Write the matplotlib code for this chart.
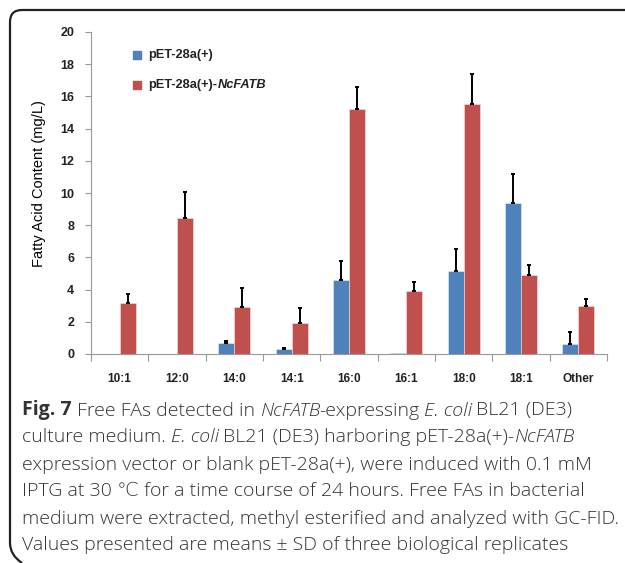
import numpy as np
import matplotlib.pyplot as plt
from matplotlib.path import Path
from matplotlib.patches import PathPatch

categories = ['10:1', '12:0', '14:0', '14:1', '16:0', '16:1', '18:0', '18:1', 'Other']
empty_vec = [0, 0, 0.68, 0.29, 4.58, 0.05, 5.16, 9.36, 0.62]
empty_sd = [0, 0, 0.15, 0.10, 1.22, 0, 1.36, 1.84, 0.77]
fatb = [3.19, 8.45, 2.92, 1.95, 15.22, 3.89, 15.50, 4.89, 2.98]
fatb_sd = [0.56, 1.61, 1.20, 0.93, 1.34, 0.58, 1.89, 0.66, 0.45]
yticks = [0, 2, 4, 6, 8, 10, 12, 14, 16, 18, 20]

blue = '#4f81bd'
red = '#c0504d'
W, H = 625, 563

fig = plt.figure(figsize=(W / 100, H / 100), dpi=100)
ax = fig.add_axes([91 / W, 1 - 354 / H, 516 / W, 322 / H])

x = np.arange(len(categories))
bw = 0.28
ax.bar(x - bw / 2, empty_vec, bw, color=blue, edgecolor='#e8eef6', linewidth=0.4, zorder=2)
ax.bar(x + bw / 2, fatb, bw, color=red, edgecolor='#f4e4e4', linewidth=0.4, zorder=2)

# one-sided error bars, only where there is an SD
for xs, vals, sds in [(x - bw / 2, empty_vec, empty_sd), (x + bw / 2, fatb, fatb_sd)]:
    m = np.array(sds) > 0
    ax.errorbar(xs[m], np.array(vals)[m], yerr=[np.zeros(m.sum()), np.array(sds)[m]],
                fmt='none', ecolor='black', elinewidth=1.4, capsize=1.6, capthick=1.4, zorder=3)

ax.set_xlim(-0.5, len(categories) - 0.5)
ax.set_ylim(0, 20)
ax.set_yticks(yticks)
ax.set_yticklabels([str(t) for t in yticks], fontsize=9, fontweight='bold',
                   family='Liberation Sans', color='#222222')
ax.set_xticks(x)
ax.set_xticklabels(categories, fontsize=8.5, fontweight='bold', family='Liberation Sans', color='#222222')
ax.tick_params(axis='x', length=0, pad=14)
ax.set_xticks(np.arange(len(categories) + 1) - 0.5, minor=True)
ax.tick_params(axis='x', which='minor', length=5, color='#999999', width=0.8)
ax.tick_params(axis='y', length=4, color='#999999', width=0.8, pad=8)
for s in ['top', 'right']:
    ax.spines[s].set_visible(False)
for s in ['left', 'bottom']:
    ax.spines[s].set_color('#999999')
    ax.spines[s].set_linewidth(0.8)

ax.set_ylabel('Fatty Acid Content (mg/L)', fontsize=10.5, family='Liberation Sans')
ax.yaxis.set_label_coords(-0.087, 0.53)

# legend drawn by hand so that only NcFATB is italic
sx = (137 - 91) / 57.33 - 0.5
lx = (148 - 91) / 57.33 - 0.5
ax.scatter([sx], [18.55], marker='s', s=32, color=blue, clip_on=False, zorder=4)
ax.scatter([sx], [16.7], marker='s', s=32, color=red, clip_on=False, zorder=4)
ax.text(lx, 18.55, 'pET-28a(+)', fontsize=9.2, fontweight='bold', family='Liberation Sans',
        va='center', color='#222222')
t1 = ax.text(lx, 16.7, 'pET-28a(+)-', fontsize=9.2, fontweight='bold', family='Liberation Sans',
             va='center', color='#222222')

fig.canvas.draw()
r = fig.canvas.get_renderer()
bb = t1.get_window_extent(r)
ax.annotate('NcFATB', xy=(bb.x1 + 0.5, bb.y0 + bb.height / 2), xycoords='figure pixels',
            va='center', fontsize=9.2, fontweight='bold', fontstyle='italic',
            family='Liberation Sans', color='#222222')

# caption
cap_font = ['Open Sans', 'DejaVu Sans']
cap_size = 14.0
lines = [
    [('Fig. 7', 'b'), (' Free FAs detected in ', 'n'), ('NcFATB', 'i'), ('-expressing ', 'n'),
     ('E. coli', 'i'), (' BL21 (DE3)', 'n')],
    [('culture medium. ', 'n'), ('E. coli', 'i'), (' BL21 (DE3) harboring pET-28a(+)-', 'n'),
     ('NcFATB', 'i')],
    [('expression vector or blank pET-28a(+), were induced with 0.1 mM', 'n')],
    [('IPTG at 30 \u2103 for a time course of 24 hours. Free FAs in bacterial', 'n')],
    [('medium were extracted, methyl esterified and analyzed with GC-FID.', 'n')],
    [('Values presented are means \u00b1 SD of three biological replicates', 'n')],
]
base = dict(fontsize=cap_size, family=cap_font, color='#333333', va='baseline', ha='left',
            fontweight='light')
ta = fig.text(0, 0, 'a a', **base)
tb = fig.text(0, 0, 'aa', **base)
space_w = ta.get_window_extent(r).width - tb.get_window_extent(r).width
ta.remove()
tb.remove()

y0 = H - 415.5
for i, segs in enumerate(lines):
    xp = 22
    yp = y0 - i * 27.0
    for j, (txt, st) in enumerate(segs):
        if j > 0 and (txt.startswith(' ') or segs[j - 1][0].endswith(' ')):
            xp += space_w
        kw = dict(base)
        if st == 'b':
            kw['fontweight'] = 'bold'
        if st == 'i':
            kw['fontstyle'] = 'italic'
        t = fig.text(xp / W, yp / H, txt.strip(), **kw)
        xp = t.get_window_extent(r).x1
        if st == 'i':
            xp -= 1.5

# rounded frame at the left/top
rad = 12
verts = [(W, H - 10), (10 + rad, H - 10), (10, H - 10), (10, H - 10 - rad),
         (10, 8 + rad), (10, 8), (10 + rad, 0)]
codes = [Path.MOVETO, Path.LINETO, Path.CURVE3, Path.CURVE3, Path.LINETO, Path.CURVE3, Path.CURVE3]
frame = PathPatch(Path(verts, codes), transform=None, fill=False, edgecolor='#222222', linewidth=1.6)
fig.patches.append(frame)

fig.savefig('out.png', dpi=100)
